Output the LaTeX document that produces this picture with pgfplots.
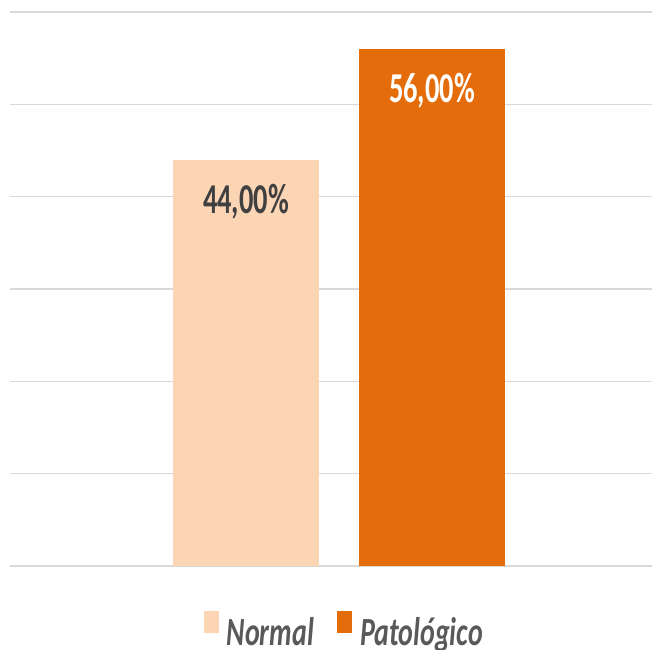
\documentclass[border=0pt]{standalone}
\usepackage{fontspec}
\setmainfont{Carlito}
\usepackage{graphicx}
\usepackage{pgfplots}
\pgfplotsset{compat=1.18}
\definecolor{normalc}{HTML}{FCD5B5}
\definecolor{patoc}{HTML}{E46C0A}
\definecolor{gridc}{HTML}{D9D9D9}
\definecolor{labc}{HTML}{404040}
\definecolor{legc}{HTML}{595959}
\begin{document}
\begin{tikzpicture}
\useasboundingbox (0,0) rectangle (652pt,649pt);
\begin{axis}[
  at={(10pt,83pt)}, anchor=south west,
  scale only axis, width=642pt, height=554pt,
  xmin=10, xmax=652, ymin=0, ymax=60,
  ybar, bar width=146, bar shift=0pt,
  axis line style={draw=none}, tick style={draw=none},
  xtick=\empty, ytick={0,10,...,60}, yticklabels={},
  ymajorgrids, grid style={gridc, line width=1.2pt},
  clip=false,
  nodes near coords={\scalebox{0.67}[1]{\pgfmathprintnumber[fixed,fixed zerofill,precision=2,use comma,assume math mode=true]{\pgfplotspointmeta}\%}},
  every node near coord/.append style={anchor=base, yshift=-53.5pt, font=\fontsize{42.5}{50}\selectfont\bfseries, inner sep=0pt},
  legend style={at={(0.52,-0.115)}, anchor=center, draw=none, fill=none,
    legend columns=2, font=\fontsize{40}{46}\selectfont\bfseries\itshape,
    text=legc, nodes={inner sep=1pt},
    /tikz/every odd column/.append style={column sep=7pt},
    /tikz/every even column/.append style={column sep=22pt}},
  legend image code/.code={\fill[#1] (0pt,-1pt) rectangle (15pt,21pt);},
]
\addplot[fill=normalc, draw=none, every node near coord/.append style={text=labc}] coordinates {(246,44)};
\addlegendentry{\scalebox{0.7}[1]{Normal}}
\addplot[fill=patoc, draw=none, every node near coord/.append style={text=white}] coordinates {(432,56)};
\addlegendentry{\scalebox{0.7}[1]{Patológico}}
\end{axis}
\end{tikzpicture}
\end{document}
